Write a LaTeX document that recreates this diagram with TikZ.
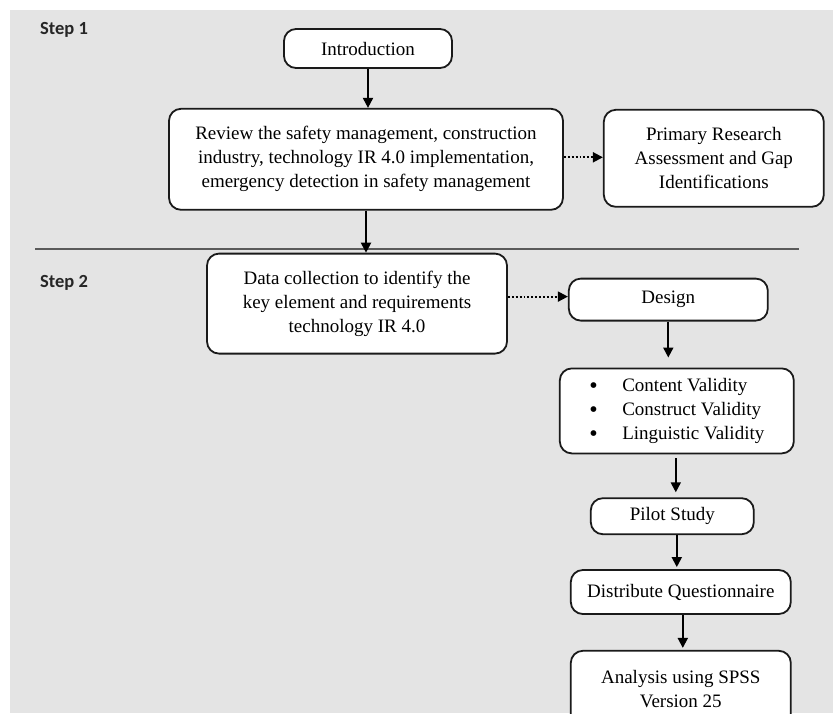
\documentclass[tikz,border=0pt]{standalone}
\usepackage{fontspec}
\setmainfont{Liberation Serif}
\newfontfamily\stepfont{Carlito}
\usetikzlibrary{arrows.meta, positioning, calc}
\definecolor{pagefill}{HTML}{E4E4E4}
\definecolor{boxborder}{HTML}{1A1A1A}
\definecolor{rulegray}{HTML}{5A5A5A}
\definecolor{steptext}{HTML}{262626}
\tikzset{
  stage/.style={rectangle, rounded corners=12pt, align=center, draw=boxborder,
                fill=white, line width=1.8pt, inner sep=2pt,
                font=\fontsize{19}{24}\selectfont},
  steplabel/.style={font=\stepfont\bfseries\fontsize{18.5}{20}\selectfont,
                    text=steptext, anchor=west, inner sep=0pt},
  flow/.style={-{Triangle[length=10pt, width=10pt]}, line width=1.9pt, draw=black},
  hint/.style={-{Triangle[length=10pt, width=10pt]}, line width=1.9pt, draw=black, dotted},
  divider/.style={draw=rulegray, line width=1.1pt},
}
\newcommand{\vbullet}{\smash{\raisebox{-1.8pt}{\fontsize{24}{20}\selectfont\textbullet}}}
\def\introgap{39pt}
\def\sidegap{39pt}
\def\stepgap{42pt}
\def\designgap{60pt}

\begin{document}
\begin{tikzpicture}[x=1pt, y=-1pt]

% Page and grey panel
\useasboundingbox (0,0) rectangle (833,713);
\fill[pagefill] (10,10) rectangle (833,713);

% Step 1
\node[steplabel] (step1) at (40,30) {Step 1};
\node[stage, minimum width=168pt, minimum height=39pt] (intro) at (368,48.5) {Introduction};
\node[stage, minimum width=394pt, minimum height=101pt, below=\introgap of intro,
      xshift=-2pt] (review)
  {Review the safety management, construction\\
   industry, technology IR 4.0 implementation,\\
   emergency detection in safety management};
\node[stage, minimum width=220pt, minimum height=97pt, right=\sidegap of review,
      yshift=1pt] (gaps)
  {Primary Research\\Assessment and Gap\\Identifications};

% Divider between the steps
\coordinate (ruleL) at (35,249);
\coordinate (ruleR) at (799,249);
\draw[divider] (ruleL) -- (ruleR);

% Step 2
\node[steplabel] (step2) at (40,283) {Step 2};
\node[stage, minimum width=300pt, minimum height=100pt, below=\stepgap of review,
      xshift=-9pt] (collect)
  {Data collection to identify the\\key element and requirements\\technology IR 4.0};
\node[stage, minimum width=199pt, minimum height=42pt, right=\designgap of collect,
      yshift=4pt] (design) {Design};
\node[stage, minimum width=234pt, minimum height=85pt, below=46pt of design,
      xshift=8.5pt] (validity)
  {\begin{tabular}{@{}p{33pt}@{}l@{}}
     \vbullet & Content Validity\\
     \vbullet & Construct Validity\\
     \vbullet & Linguistic Validity
   \end{tabular}};
\node[stage, minimum width=163pt, minimum height=36pt, below=43pt of validity,
      xshift=-4.5pt] (pilot) {Pilot Study};
\node[stage, minimum width=220pt, minimum height=44pt, below=34pt of pilot,
      xshift=8.5pt] (distribute) {Distribute Questionnaire};
\node[stage, minimum width=220pt, minimum height=76pt, below=35pt of distribute]
  (analysis) {Analysis using SPSS\\Version 25};

% Flow
\draw[flow] (intro.south) -- (intro.south |- review.north);
\draw[hint] ([yshift=2pt]review.east) -- ([yshift=2pt]review.east -| gaps.west);
\draw[flow] (review.south) -- (review.south |- collect.north);
\draw[hint] ([yshift=7pt]collect.east) -- ([yshift=7pt]collect.east -| design.west);
\draw[flow, shorten >=10pt] (design.south) -- (design.south |- validity.north);
\draw[flow, shorten <=4pt, shorten >=5pt] ([xshift=-1pt]validity.south)
  -- ([xshift=-1pt]validity.south |- pilot.north);
\draw[flow, shorten >=2pt] (pilot.south -| validity.south)
  -- (validity.south |- distribute.north);
\draw[flow, shorten >=2pt] ([xshift=2pt]distribute.south)
  -- ([xshift=2pt]distribute.south |- analysis.north);

\end{tikzpicture}
\end{document}
